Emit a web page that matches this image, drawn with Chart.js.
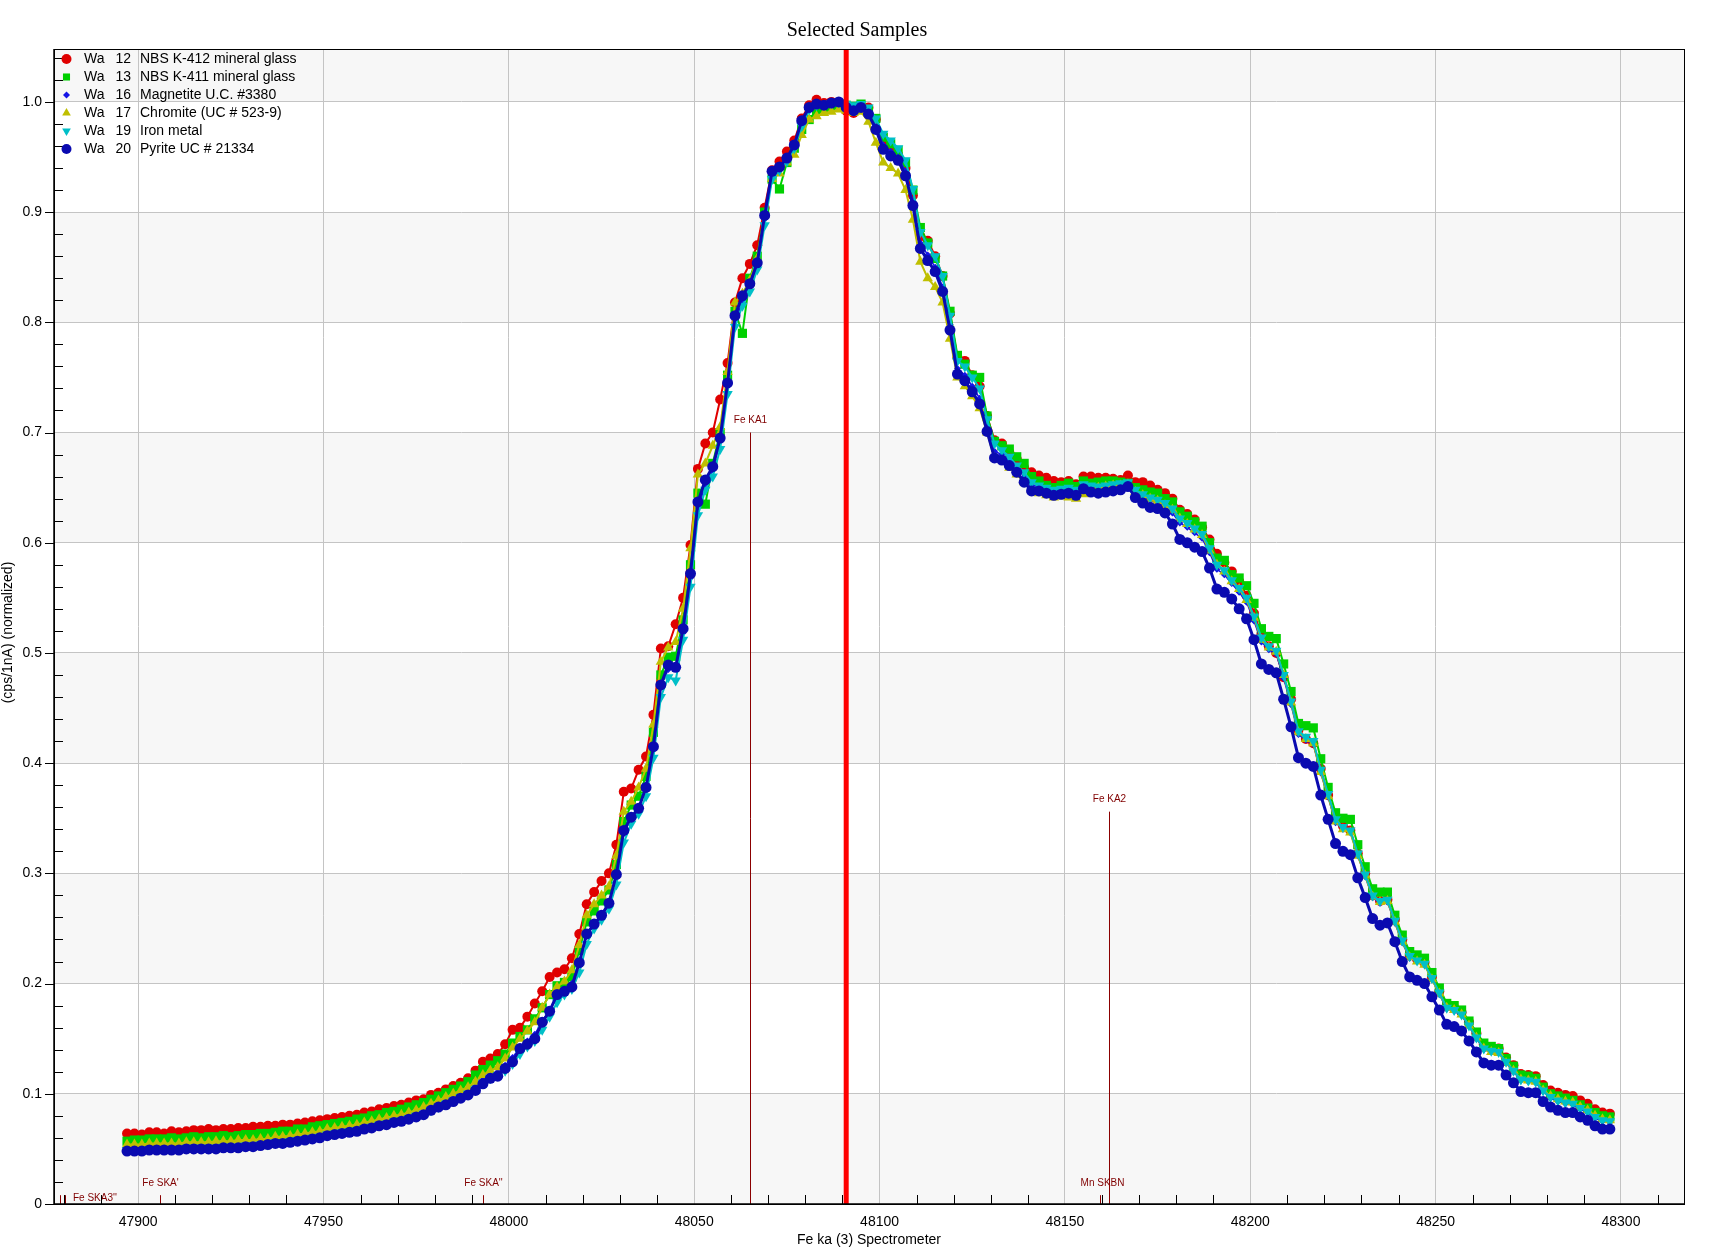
<!DOCTYPE html>
<html lang="en">
<head>
<meta charset="UTF-8">
<title>Selected Samples</title>
<script src="https://cdn.jsdelivr.net/npm/chart.js@4.4.1/dist/chart.umd.min.js"></script>
<style>
    html, body { margin: 0; padding: 0; background: #fff; }
    canvas { display: block; }
</style>
</head>
<body>
<canvas id="chart" width="1714" height="1250"></canvas>
<script>
    // spectrometer positions (Fe ka, spectrometer 3)
    const energies = [
        47897,47899,47901,47903,47905,47907,47909,47911,47913,47915,
        47917,47919,47921,47923,47925,47927,47929,47931,47933,47935,
        47937,47939,47941,47943,47945,47947,47949,47951,47953,47955,
        47957,47959,47961,47963,47965,47967,47969,47971,47973,47975,
        47977,47979,47981,47983,47985,47987,47989,47991,47993,47995,
        47997,47999,48001,48003,48005,48007,48009,48011,48013,48015,
        48017,48019,48021,48023,48025,48027,48029,48031,48033,48035,
        48037,48039,48041,48043,48045,48047,48049,48051,48053,48055,
        48057,48059,48061,48063,48065,48067,48069,48071,48073,48075,
        48077,48079,48081,48083,48085,48087,48089,48091,48093,48095,
        48097,48099,48101,48103,48105,48107,48109,48111,48113,48115,
        48117,48119,48121,48123,48125,48127,48129,48131,48133,48135,
        48137,48139,48141,48143,48145,48147,48149,48151,48153,48155,
        48157,48159,48161,48163,48165,48167,48169,48171,48173,48175,
        48177,48179,48181,48183,48185,48187,48189,48191,48193,48195,
        48197,48199,48201,48203,48205,48207,48209,48211,48213,48215,
        48217,48219,48221,48223,48225,48227,48229,48231,48233,48235,
        48237,48239,48241,48243,48245,48247,48249,48251,48253,48255,
        48257,48259,48261,48263,48265,48267,48269,48271,48273,48275,
        48277,48279,48281,48283,48285,48287,48289,48291,48293,48295,
        48297
    ];

    // normalized intensities, one list per sample
    const k412Glass = [
        0.064,0.064,0.063,0.065,0.065,0.064,0.066,0.065,0.066,0.067,
        0.067,0.068,0.067,0.068,0.068,0.069,0.069,0.070,0.070,0.071,
        0.071,0.072,0.072,0.073,0.074,0.075,0.076,0.077,0.078,0.079,
        0.080,0.081,0.083,0.084,0.086,0.087,0.089,0.090,0.092,0.094,
        0.095,0.099,0.101,0.104,0.107,0.110,0.114,0.121,0.129,0.132,
        0.136,0.145,0.158,0.160,0.170,0.182,0.193,0.206,0.210,0.213,
        0.223,0.245,0.272,0.283,0.293,0.300,0.326,0.374,0.377,0.394,
        0.406,0.444,0.504,0.506,0.526,0.550,0.598,0.667,0.690,0.700,
        0.730,0.763,0.818,0.840,0.853,0.870,0.904,0.938,0.946,0.955,
        0.965,0.985,0.997,1.002,0.999,1.000,0.998,0.992,0.990,0.996,
        0.995,0.984,0.962,0.958,0.952,0.940,0.915,0.878,0.874,0.860,
        0.842,0.808,0.768,0.765,0.752,0.742,0.715,0.693,0.690,0.682,
        0.676,0.668,0.664,0.661,0.659,0.656,0.655,0.656,0.653,0.660,
        0.660,0.659,0.659,0.658,0.657,0.661,0.655,0.655,0.652,0.648,
        0.645,0.640,0.630,0.626,0.621,0.614,0.603,0.590,0.582,0.574,
        0.565,0.552,0.536,0.517,0.506,0.500,0.478,0.458,0.430,0.422,
        0.418,0.395,0.371,0.349,0.343,0.339,0.318,0.300,0.280,0.275,
        0.276,0.258,0.240,0.226,0.222,0.219,0.206,0.193,0.180,0.178,
        0.174,0.165,0.155,0.145,0.142,0.141,0.133,0.126,0.118,0.117,
        0.116,0.108,0.103,0.101,0.099,0.098,0.094,0.091,0.086,0.083,
        0.082
    ];
    const k411Glass = [
        0.057,0.058,0.058,0.059,0.059,0.059,0.060,0.059,0.060,0.061,
        0.060,0.061,0.061,0.062,0.061,0.062,0.063,0.063,0.064,0.064,
        0.065,0.066,0.066,0.068,0.068,0.070,0.071,0.072,0.073,0.074,
        0.075,0.077,0.078,0.080,0.081,0.083,0.084,0.086,0.088,0.090,
        0.092,0.095,0.098,0.101,0.104,0.107,0.111,0.117,0.122,0.126,
        0.130,0.136,0.146,0.152,0.158,0.168,0.178,0.190,0.198,0.201,
        0.206,0.230,0.256,0.266,0.275,0.285,0.308,0.347,0.362,0.370,
        0.388,0.428,0.480,0.496,0.497,0.530,0.580,0.645,0.635,0.672,
        0.700,0.752,0.810,0.790,0.840,0.860,0.900,0.930,0.921,0.945,
        0.958,0.975,0.984,0.992,0.994,0.996,0.998,0.997,0.996,0.998,
        0.993,0.985,0.968,0.962,0.956,0.945,0.920,0.886,0.872,0.858,
        0.842,0.810,0.770,0.762,0.752,0.750,0.715,0.692,0.688,0.685,
        0.678,0.672,0.660,0.656,0.652,0.650,0.652,0.654,0.651,0.656,
        0.654,0.655,0.656,0.656,0.655,0.654,0.650,0.648,0.646,0.645,
        0.640,0.637,0.628,0.624,0.619,0.615,0.600,0.586,0.584,0.571,
        0.568,0.561,0.545,0.522,0.515,0.513,0.490,0.465,0.436,0.434,
        0.432,0.404,0.378,0.355,0.350,0.349,0.326,0.306,0.286,0.283,
        0.283,0.262,0.244,0.229,0.226,0.223,0.210,0.196,0.182,0.180,
        0.176,0.166,0.156,0.146,0.143,0.141,0.132,0.125,0.117,0.116,
        0.114,0.106,0.100,0.098,0.096,0.094,0.090,0.087,0.083,0.080,
        0.079
    ];
    const magnetite = [
        0.051,0.051,0.051,0.052,0.052,0.052,0.052,0.052,0.053,0.053,
        0.053,0.053,0.053,0.054,0.054,0.054,0.055,0.055,0.056,0.056,
        0.058,0.058,0.059,0.060,0.061,0.062,0.063,0.065,0.066,0.067,
        0.068,0.069,0.071,0.072,0.074,0.075,0.077,0.078,0.080,0.082,
        0.084,0.088,0.091,0.093,0.096,0.099,0.102,0.107,0.113,0.118,
        0.120,0.126,0.133,0.142,0.148,0.154,0.166,0.176,0.188,0.194,
        0.200,0.220,0.244,0.254,0.262,0.274,0.298,0.336,0.350,0.360,
        0.378,0.414,0.470,0.485,0.488,0.518,0.568,0.632,0.652,0.666,
        0.692,0.742,0.802,0.818,0.833,0.852,0.894,0.932,0.940,0.948,
        0.958,0.979,0.992,0.996,0.996,0.997,0.998,0.994,0.991,0.993,
        0.989,0.978,0.961,0.955,0.950,0.937,0.910,0.872,0.861,0.850,
        0.832,0.798,0.758,0.752,0.742,0.731,0.705,0.683,0.680,0.674,
        0.668,0.660,0.652,0.651,0.649,0.647,0.648,0.649,0.647,0.651,
        0.650,0.649,0.650,0.651,0.652,0.654,0.646,0.642,0.638,0.636,
        0.633,0.627,0.618,0.614,0.609,0.604,0.591,0.576,0.571,0.563,
        0.555,0.546,0.529,0.510,0.503,0.499,0.477,0.453,0.426,0.421,
        0.417,0.391,0.369,0.346,0.340,0.337,0.316,0.297,0.278,0.273,
        0.274,0.255,0.237,0.223,0.220,0.217,0.204,0.190,0.177,0.175,
        0.171,0.161,0.150,0.140,0.138,0.137,0.128,0.120,0.112,0.111,
        0.110,0.102,0.096,0.093,0.091,0.090,0.086,0.083,0.078,0.075,
        0.074
    ];
    const chromite = [
        0.054,0.054,0.054,0.055,0.055,0.055,0.055,0.055,0.056,0.056,
        0.056,0.056,0.057,0.057,0.057,0.058,0.058,0.058,0.059,0.059,
        0.061,0.061,0.062,0.063,0.064,0.065,0.066,0.068,0.069,0.070,
        0.071,0.072,0.074,0.075,0.077,0.078,0.080,0.081,0.083,0.085,
        0.088,0.091,0.094,0.097,0.100,0.103,0.106,0.111,0.117,0.121,
        0.124,0.132,0.142,0.150,0.157,0.165,0.178,0.190,0.197,0.202,
        0.212,0.235,0.262,0.272,0.280,0.288,0.316,0.356,0.365,0.378,
        0.395,0.435,0.492,0.505,0.510,0.540,0.595,0.662,0.672,0.688,
        0.705,0.755,0.818,0.826,0.838,0.858,0.898,0.930,0.935,0.945,
        0.952,0.970,0.984,0.987,0.990,0.991,0.993,0.992,0.990,0.991,
        0.982,0.963,0.945,0.940,0.935,0.920,0.893,0.855,0.840,0.832,
        0.818,0.785,0.750,0.742,0.733,0.722,0.700,0.677,0.675,0.668,
        0.662,0.655,0.648,0.645,0.643,0.641,0.642,0.641,0.640,0.644,
        0.648,0.650,0.651,0.652,0.652,0.653,0.646,0.643,0.640,0.638,
        0.634,0.630,0.622,0.617,0.612,0.607,0.593,0.580,0.574,0.565,
        0.558,0.548,0.532,0.512,0.505,0.501,0.480,0.455,0.428,0.422,
        0.418,0.392,0.370,0.347,0.340,0.337,0.316,0.298,0.279,0.274,
        0.275,0.256,0.238,0.224,0.220,0.217,0.204,0.191,0.178,0.176,
        0.172,0.162,0.151,0.141,0.138,0.137,0.128,0.121,0.113,0.112,
        0.111,0.103,0.098,0.095,0.093,0.092,0.088,0.085,0.080,0.077,
        0.076
    ];
    const ironMetal = [
        0.049,0.049,0.049,0.050,0.050,0.050,0.050,0.050,0.051,0.051,
        0.051,0.051,0.051,0.052,0.052,0.052,0.053,0.053,0.054,0.054,
        0.056,0.056,0.057,0.058,0.059,0.060,0.061,0.063,0.064,0.065,
        0.066,0.067,0.069,0.070,0.072,0.073,0.075,0.076,0.078,0.080,
        0.082,0.085,0.088,0.091,0.094,0.097,0.100,0.104,0.110,0.114,
        0.117,0.121,0.127,0.136,0.143,0.148,0.158,0.170,0.183,0.190,
        0.195,0.210,0.236,0.250,0.258,0.268,0.290,0.328,0.345,0.354,
        0.370,0.405,0.460,0.478,0.475,0.512,0.560,0.625,0.648,0.660,
        0.685,0.735,0.796,0.815,0.828,0.848,0.888,0.930,0.938,0.946,
        0.958,0.978,0.993,0.997,0.998,0.999,1.000,0.998,0.997,0.998,
        0.995,0.985,0.971,0.965,0.958,0.947,0.921,0.882,0.870,0.860,
        0.842,0.806,0.765,0.760,0.750,0.740,0.712,0.690,0.684,0.678,
        0.670,0.664,0.655,0.652,0.650,0.648,0.649,0.650,0.648,0.653,
        0.652,0.651,0.652,0.653,0.654,0.655,0.648,0.644,0.641,0.639,
        0.636,0.631,0.622,0.618,0.613,0.608,0.595,0.580,0.575,0.566,
        0.559,0.550,0.533,0.514,0.506,0.502,0.480,0.456,0.429,0.424,
        0.420,0.394,0.372,0.349,0.342,0.339,0.318,0.299,0.280,0.275,
        0.276,0.257,0.239,0.225,0.221,0.218,0.205,0.192,0.178,0.176,
        0.172,0.162,0.151,0.141,0.139,0.138,0.129,0.121,0.113,0.112,
        0.111,0.103,0.097,0.094,0.092,0.091,0.087,0.084,0.079,0.076,
        0.075
    ];
    const pyrite = [
        0.048,0.048,0.048,0.049,0.049,0.049,0.049,0.049,0.050,0.050,
        0.050,0.050,0.050,0.051,0.051,0.051,0.052,0.052,0.053,0.054,
        0.055,0.055,0.056,0.057,0.058,0.059,0.060,0.062,0.063,0.064,
        0.065,0.066,0.068,0.069,0.071,0.072,0.074,0.075,0.077,0.079,
        0.081,0.085,0.088,0.090,0.093,0.096,0.099,0.103,0.109,0.114,
        0.116,0.123,0.129,0.141,0.145,0.150,0.165,0.175,0.190,0.193,
        0.197,0.219,0.245,0.254,0.262,0.273,0.299,0.339,0.351,0.359,
        0.378,0.415,0.471,0.489,0.487,0.522,0.572,0.637,0.657,0.669,
        0.695,0.745,0.806,0.824,0.835,0.854,0.897,0.937,0.941,0.949,
        0.961,0.983,0.995,0.998,0.997,0.999,1.000,0.995,0.992,0.995,
        0.989,0.975,0.957,0.951,0.947,0.933,0.906,0.867,0.856,0.846,
        0.828,0.793,0.753,0.747,0.737,0.726,0.701,0.677,0.675,0.670,
        0.664,0.655,0.647,0.647,0.645,0.643,0.644,0.645,0.643,0.649,
        0.646,0.645,0.646,0.647,0.648,0.651,0.641,0.636,0.632,0.631,
        0.627,0.617,0.603,0.600,0.596,0.592,0.577,0.558,0.555,0.549,
        0.540,0.531,0.512,0.490,0.485,0.482,0.458,0.433,0.405,0.400,
        0.397,0.371,0.349,0.327,0.320,0.317,0.296,0.278,0.259,0.253,
        0.255,0.238,0.220,0.206,0.203,0.200,0.188,0.176,0.163,0.161,
        0.157,0.148,0.138,0.128,0.126,0.126,0.117,0.110,0.102,0.101,
        0.101,0.093,0.088,0.085,0.083,0.083,0.079,0.076,0.071,0.068,
        0.068
    ];

    const sampleNumbers = [12, 13, 16, 17, 19, 20];
    const sampleNames = [
        'NBS K-412 mineral glass',
        'NBS K-411 mineral glass',
        'Magnetite U.C. #3380',
        'Chromite (UC # 523-9)',
        'Iron metal',
        'Pyrite UC # 21334'
    ];

    // KLM marker lines: position and relative height
    const klmNames = ["Fe SKA3''", '', "Fe SKA'", "Fe SKA''", 'Fe KA1', '', 'Mn SKBN', 'Fe KA2'];
    const klmEnergies = [47878.8, 47880.2, 47906, 47993, 48065, 48159.4, 48160.1, 48162];
    const klmHeights = [0.008, 0.008, 0.008, 0.008, 0.70, 0.008, 0.008, 0.356];

    const peakPosition = 48091;

    const styles = [
        { color: '#e00000', shape: 'circle', radius: 5, width: 2 },
        { color: '#00d000', shape: 'rect', radius: 6.5, width: 2 },
        { color: '#1414e6', shape: 'rectRot', radius: 3.5, width: 1.5 },
        { color: '#bfbf00', shape: 'triangle', radius: 6, width: 2 },
        { color: '#00bfc8', shape: 'triangleDown', radius: 6, width: 2 },
        { color: '#0a0ab0', shape: 'circle', radius: 5.5, width: 3 }
    ];

    const FONT = '"Liberation Sans", Arial, sans-serif';

    function drawMarker(ctx, shape, x, y, r, color) {
        ctx.fillStyle = color;
        ctx.beginPath();
        if (shape === 'circle') {
            ctx.arc(x, y, r, 0, Math.PI * 2);
        } else if (shape === 'rect') {
            let s = r * Math.SQRT1_2;
            ctx.rect(x - s, y - s, 2 * s, 2 * s);
        } else if (shape === 'rectRot') {
            ctx.moveTo(x, y - r); ctx.lineTo(x + r, y); ctx.lineTo(x, y + r); ctx.lineTo(x - r, y);
        } else if (shape === 'triangle') {
            ctx.moveTo(x, y - r); ctx.lineTo(x + r * 0.866, y + r / 2); ctx.lineTo(x - r * 0.866, y + r / 2);
        } else {
            ctx.moveTo(x, y + r); ctx.lineTo(x + r * 0.866, y - r / 2); ctx.lineTo(x - r * 0.866, y - r / 2);
        }
        ctx.closePath();
        ctx.fill();
    }

    const decorations = {
        id: 'decorations',
        beforeDraw(chart) {
            const { ctx, chartArea: a, scales: { y } } = chart;
            ctx.save();
            ctx.fillStyle = '#f7f7f7';
            for (let k = 0; k <= 10; k += 2) {
                let top = Math.max(y.getPixelForValue((k + 1) / 10), a.top);
                let bottom = Math.min(y.getPixelForValue(k / 10), a.bottom);
                ctx.fillRect(a.left, top, a.right - a.left, bottom - top);
            }
            ctx.restore();
        },
        afterDatasetsDraw(chart) {
            const { ctx, chartArea: a, scales: { x, y } } = chart;
            ctx.save();
            // KLM lines
            klmEnergies.forEach((e, i) => {
                let px = Math.round(x.getPixelForValue(e)) + 0.5;
                let top = y.getPixelForValue(klmHeights[i]);
                ctx.strokeStyle = '#8b0000';
                ctx.lineWidth = 1;
                ctx.beginPath();
                ctx.moveTo(px, a.bottom);
                ctx.lineTo(px, top);
                ctx.stroke();
                if (klmNames[i]) {
                    ctx.font = '10px ' + FONT;
                    ctx.fillStyle = '#800000';
                    ctx.textAlign = 'left';
                    ctx.textBaseline = 'bottom';
                    let w = ctx.measureText(klmNames[i]).width;
                    let lx = px - w / 2, ly = top - 7;
                    if (lx < a.left) { lx = a.left + 19; ly = a.bottom - 1; }
                    ctx.fillText(klmNames[i], lx, ly);
                }
            });
            // selected peak position
            let peakX = x.getPixelForValue(peakPosition);
            ctx.strokeStyle = '#ff0000';
            ctx.lineWidth = 5;
            ctx.beginPath();
            ctx.moveTo(peakX, a.top);
            ctx.lineTo(peakX, a.bottom);
            ctx.stroke();
            ctx.restore();
        },
        afterDraw(chart) {
            const { ctx, chartArea: a, scales: { x, y } } = chart;
            ctx.save();
            ctx.strokeStyle = '#000';
            ctx.lineWidth = 1;
            ctx.beginPath();
            // minor ticks inside, every 10 on x
            for (let v = Math.ceil(x.min / 10) * 10; v <= x.max; v += 10) {
                if (v % 50 === 0) continue;
                let px = Math.round(x.getPixelForValue(v)) + 0.5;
                ctx.moveTo(px, a.bottom);
                ctx.lineTo(px, a.bottom - 9);
            }
            // y ticks: minor inside, major outside
            for (let k = 0; k * 0.02 <= y.max; k++) {
                let py = Math.round(y.getPixelForValue(k * 0.02)) + 0.5;
                if (k % 5 === 0) {
                    ctx.moveTo(a.left - 9, py);
                    ctx.lineTo(a.left, py);
                } else {
                    ctx.moveTo(a.left, py);
                    ctx.lineTo(a.left + 9, py);
                }
            }
            ctx.stroke();
            // frame
            ctx.strokeRect(Math.round(a.left) + 0.5, Math.round(a.top) + 0.5,
                Math.round(a.right - a.left), Math.round(a.bottom - a.top));
            ctx.lineWidth = 1.5;
            ctx.beginPath();
            ctx.moveTo(a.left, a.top);
            ctx.lineTo(a.left, a.bottom);
            ctx.lineTo(a.right, a.bottom);
            ctx.stroke();

            // titles
            ctx.fillStyle = '#000';
            ctx.textAlign = 'center';
            ctx.textBaseline = 'middle';
            ctx.font = '20px "Liberation Serif", "Times New Roman", serif';
            ctx.fillText('Selected Samples', chart.width / 2, 31);
            ctx.font = '14px ' + FONT;
            ctx.fillText('Fe ka (3) Spectrometer', (a.left + a.right) / 2, 1240);
            ctx.save();
            ctx.translate(8, (a.top + a.bottom) / 2 + 6);
            ctx.rotate(-Math.PI / 2);
            ctx.fillText('(cps/1nA) (normalized)', 0, 0);
            ctx.restore();

            // legend
            ctx.font = '14px ' + FONT;
            sampleNames.forEach((name, i) => {
                let ry = 59 + i * 18;
                drawMarker(ctx, styles[i].shape, 66.5, ry, styles[i].shape === 'rectRot' ? 3.5 : 5, styles[i].color);
                ctx.fillStyle = '#000';
                ctx.textAlign = 'left';
                ctx.fillText('Wa', 84, ry);
                ctx.textAlign = 'right';
                ctx.fillText(String(sampleNumbers[i]), 131, ry);
                ctx.textAlign = 'left';
                ctx.fillText(name, 140, ry);
            });
            ctx.restore();
        }
    };

    const seriesValues = [k412Glass, k411Glass, magnetite, chromite, ironMetal, pyrite];

    const datasets = seriesValues.map((values, i) => {
        let s = styles[i];
        return {
            label: 'Wa ' + sampleNumbers[i] + ' ' + sampleNames[i],
            data: values.map((v, j) => ({ x: energies[j], y: v })),
            borderColor: s.color,
            backgroundColor: s.color,
            borderWidth: s.width,
            pointStyle: s.shape === 'triangleDown' ? 'triangle' : s.shape,
            pointRotation: s.shape === 'triangleDown' ? 180 : 0,
            pointRadius: s.radius,
            pointBorderWidth: 0,
            pointBackgroundColor: s.color,
            tension: 0,
            order: 6 - i
        };
    });

    new Chart(document.getElementById('chart'), {
        type: 'line',
        data: { datasets },
        plugins: [decorations],
        options: {
            responsive: false,
            animation: false,
            devicePixelRatio: 1,
            layout: { padding: { top: 49, right: 30, left: 0, bottom: 0 }, autoPadding: false },
            plugins: {
                legend: { display: false },
                tooltip: { enabled: false },
                title: { display: false }
            },
            scales: {
                x: {
                    type: 'linear',
                    min: 47877.3,
                    max: 48317,
                    afterFit(scale) { scale.height = 46; },
                    border: { display: false },
                    grid: { color: '#c4c4c4', lineWidth: 1, drawTicks: false },
                    ticks: {
                        stepSize: 50,
                        includeBounds: false,
                        maxRotation: 0,
                        padding: 10,
                        color: '#000',
                        font: { size: 14, family: FONT },
                        callback: v => String(v)
                    }
                },
                y: {
                    min: 0,
                    max: 1.048,
                    afterFit(scale) { scale.width = 54; },
                    border: { display: false },
                    grid: { color: '#c4c4c4', lineWidth: 1, drawTicks: false },
                    ticks: {
                        stepSize: 0.1,
                        includeBounds: false,
                        padding: 12,
                        color: '#000',
                        font: { size: 14, family: FONT },
                        callback: v => v === 0 ? '0' : v.toFixed(1)
                    }
                }
            }
        }
    });
</script>
</body>
</html>
